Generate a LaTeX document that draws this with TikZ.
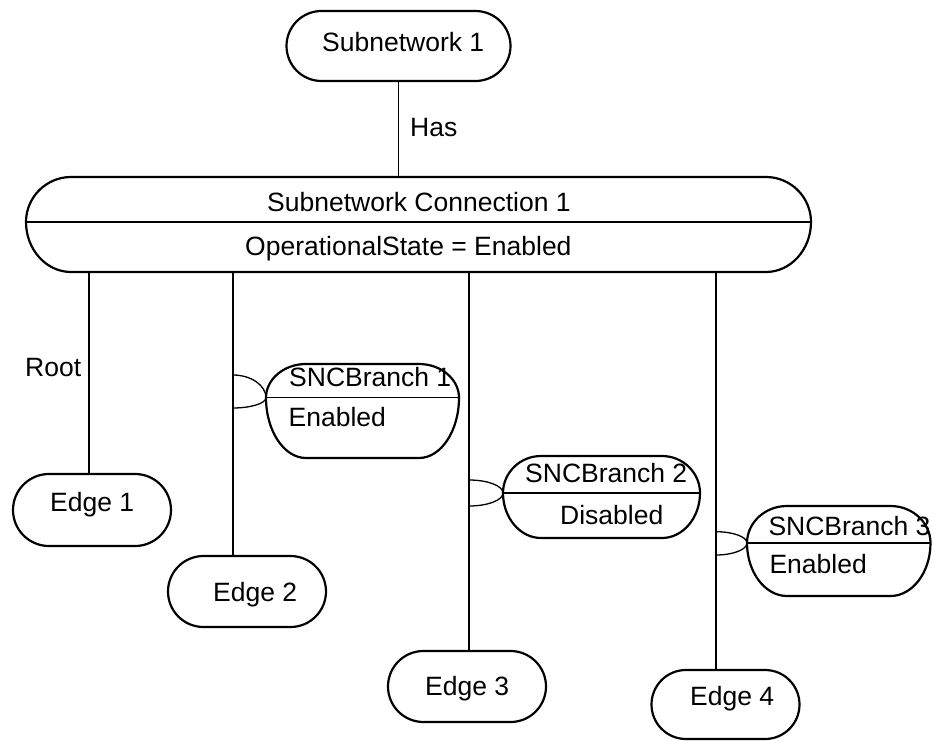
\documentclass[tikz,border=0pt]{standalone}
\usepackage{fontspec}
\setmainfont{Liberation Sans}
\usepackage{tikz}
\usetikzlibrary{shapes.misc}
\tikzset{
  stadium/.style={draw, line width=2.2pt, rounded rectangle, inner sep=0pt},
  capline/.style={line width=2.2pt, line join=round},
  divline/.style={line width=1.5pt},
  link/.style={line width=1.3pt},
  lbl/.style={font=\fontsize{26.5}{30}\selectfont, inner sep=0pt, anchor=base west}
}

\begin{document}
\begin{tikzpicture}[x=1pt,y=-1pt]

  \useasboundingbox (0,0) rectangle (932,741);

  %% name, left, right, top, middle, bottom, end radius
  \newcommand\splitcap[7]{%
    \draw[capline] ({#2+#7},#4) -- ({#3-#7},#4)
      .. controls +({0.55*#7},0) and +(0,{-0.55*(#5-#4)}) .. (#3,#5)
      .. controls +(0,{0.55*(#6-#5)}) and +({0.55*#7},0) .. ({#3-#7},#6)
      -- ({#2+#7},#6)
      .. controls +({-0.55*#7},0) and +(0,{0.55*(#6-#5)}) .. (#2,#5)
      .. controls +(0,{-0.55*(#5-#4)}) and +({-0.55*#7},0) .. cycle;
    \draw[divline] (#2,#5) -- (#3,#5);
    \coordinate (#1-w) at (#2,#5);
    \coordinate (#1-e) at (#3,#5);
    \coordinate (#1-n) at ({(#2+#3)/2},#4);
    \coordinate (#1-s) at ({(#2+#3)/2},#6);
  }

  \node[stadium, minimum width=224, minimum height=70] (sn) at (398.5,46) {};
  \node[lbl] (sn-t) at (322,52) {Subnetwork 1};

  \splitcap{snc}{26}{811}{177}{222}{272}{45}
  \node[lbl] (snc-t) at (267,211.5) {Subnetwork Connection 1};
  \node[lbl] (snc-s1) at (245,255) {OperationalState = Enabled};

  \draw[link] (sn.south) -- (sn.south |- snc-n); %% has
  \node[lbl] (has) at (410,137) {Has};

  \node[stadium, minimum width=158, minimum height=72] (e1) at (92,510) {};
  \node[stadium, minimum width=158, minimum height=71] (e2) at (247,591.5) {};
  \node[stadium, minimum width=158, minimum height=71] (e3) at (467,686.5) {};
  \node[stadium, minimum width=148, minimum height=69] (e4) at (725.5,704.5) {};
  \node[lbl] (e1-t) at (50,511) {Edge 1};
  \node[lbl] (e2-t) at (213,601.7) {Edge 2};
  \node[lbl] (e3-t) at (425,695) {Edge 3};
  \node[lbl] (e4-t) at (690,705) {Edge 4};

  \coordinate (l1) at (89,0);
  \coordinate (l2) at (233,0);
  \coordinate (l3) at (469,0);
  \coordinate (l4) at (716,0);
  \draw[link] (l1 |- snc-s) -- (l1 |- e1.north); %% root
  \draw[link] (l2 |- snc-s) -- (l2 |- e2.north);
  \draw[link] (l3 |- snc-s) -- (l3 |- e3.north);
  \draw[link] (l4 |- snc-s) -- (l4 |- e4.north);
  \node[lbl] (root) at (25,376.7) {Root};

  \splitcap{b1}{266}{459}{364}{397.7}{458}{40}
  \node[lbl] (b1-t) at (289,386.7) {SNCBranch 1};
  \node[lbl] (b1-s) at (288.5,426) {Enabled};

  \splitcap{b2}{503}{700}{456}{493}{538}{38}
  \node[lbl] (b2-t) at (525,482.7) {SNCBranch 2};
  \node[lbl] (b2-s) at (560,524) {Disabled};

  \splitcap{b3}{747}{930.5}{506}{543}{596}{40}
  \node[lbl] (b3-t) at (768.3,535) {SNCBranch 3};
  \node[lbl] (b3-s) at (769.3,573) {Enabled};

  %% sockets on the branch lines
  \coordinate (s1a) at (233,375);
  \coordinate (s1b) at (233,408);
  \draw[link] (s1a) .. controls +(17.6,0) and +(0,-12.5) .. (b1-w)
    .. controls +(0,5.7) and +(17.6,0) .. (s1b);
  \coordinate (s2a) at (469,480);
  \coordinate (s2b) at (469,506);
  \draw[link] (s2a) .. controls +(18.7,0) and +(0,-7.2) .. (b2-w)
    .. controls +(0,7.2) and +(18.7,0) .. (s2b);
  \coordinate (s3a) at (716,531.7);
  \coordinate (s3b) at (716,555);
  \draw[link] (s3a) .. controls +(17,0) and +(0,-6.2) .. (b3-w)
    .. controls +(0,6.6) and +(17,0) .. (s3b);

\end{tikzpicture}
\end{document}
